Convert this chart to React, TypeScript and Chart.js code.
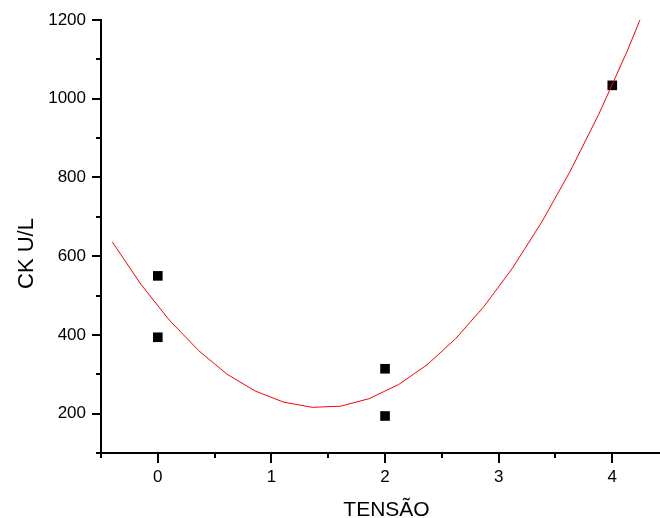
import React, { useEffect, useRef } from "react";
import { Chart, registerables } from "chart.js";

Chart.register(...registerables);

// Measured points
const tensao = [0, 0, 2, 2, 4];
const ckValues = [550, 394, 314, 194, 1034];

// Fit curve vertices
const curveX = [-0.4, -0.15, 0.1, 0.36, 0.61, 0.86, 1.11, 1.36, 1.61, 1.86, 2.12, 2.37, 2.62, 2.87, 3.12, 3.38, 3.63, 3.88, 4.13, 4.39];
const curveY = [636, 529, 438, 360, 300, 257, 229, 216, 219, 238, 274, 324, 390, 472, 569, 687, 816, 960, 1120, 1303];

// Axis ticks
const xTicks = [0, 1, 2, 3, 4];
const xMinorTicks = [-0.5, 0.5, 1.5, 2.5, 3.5];
const yTicks = [200, 400, 600, 800, 1000, 1200];
const yMinorTicks = [100, 300, 500, 700, 900, 1100];

const xTitle = "TENSÃO";
const yTitle = "CK U/L";

const FONT = '"Liberation Sans", Arial, Helvetica, sans-serif';

const axisPlugin = {
  id: "originAxes",
  afterDraw(chart: any) {
    const { ctx, chartArea } = chart;
    const xs = chart.scales.x;
    const ys = chart.scales.y;
    ctx.save();
    ctx.strokeStyle = "#000";
    ctx.lineWidth = 2;
    ctx.beginPath();
    const yTickSet: Array<[number, number]> = [
      ...yTicks.map((v) => [v, 9] as [number, number]),
      ...yMinorTicks.map((v) => [v, 5] as [number, number]),
    ];
    for (const [v, len] of yTickSet) {
      const py = Math.round(ys.getPixelForValue(v));
      ctx.moveTo(chartArea.left - len, py);
      ctx.lineTo(chartArea.left, py);
    }
    const xTickSet: Array<[number, number]> = [
      ...xTicks.map((v) => [v, 10] as [number, number]),
      ...xMinorTicks.map((v) => [v, 5] as [number, number]),
    ];
    for (const [v, len] of xTickSet) {
      const px = Math.round(xs.getPixelForValue(v));
      ctx.moveTo(px, chartArea.bottom);
      ctx.lineTo(px, chartArea.bottom + len);
    }
    ctx.stroke();

    // axis titles
    ctx.fillStyle = "#000";
    ctx.font = `21px ${FONT}`;
    ctx.textAlign = "center";
    ctx.textBaseline = "alphabetic";
    ctx.fillText(xTitle, (chartArea.left + chartArea.right) / 2 + 6, chart.height - 2);

    ctx.translate(33, (chartArea.top + chartArea.bottom) / 2 + 17);
    ctx.rotate(-Math.PI / 2);
    ctx.font = `22px ${FONT}`;
    ctx.fillText(yTitle, 0, 0);
    ctx.restore();
  },
};

export default function App() {
  const canvasRef = useRef<HTMLCanvasElement | null>(null);

  useEffect(() => {
    const canvas = canvasRef.current;
    if (!canvas) return;
    const chart = new Chart(canvas, {
      type: "scatter",
      data: {
        datasets: [
          {
            label: "fit",
            data: curveX.map((x, i) => ({ x, y: curveY[i] })),
            showLine: true,
            borderColor: "#ff0000",
            borderWidth: 1,
            pointRadius: 0,
            tension: 0,
            fill: false,
          },
          {
            label: "CK",
            data: tensao.map((x, i) => ({ x, y: ckValues[i] })),
            pointStyle: "rect",
            pointRadius: 6.8,
            backgroundColor: "#000",
            borderColor: "#000",
            borderWidth: 0,
          },
        ],
      },
      options: {
        responsive: false,
        animation: false,
        devicePixelRatio: 1,
        layout: { autoPadding: false, padding: { top: 20, right: 0, left: 0, bottom: 0 } },
        plugins: {
          legend: { display: false },
          tooltip: { enabled: false },
        },
        scales: {
          x: {
            type: "linear",
            min: -0.5,
            max: 4.42,
            grid: { display: false, drawTicks: false },
            border: { display: true, color: "#000", width: 2 },
            afterBuildTicks: (scale: any) => {
              scale.ticks = xTicks.map((v) => ({ value: v }));
            },
            afterFit: (scale: any) => {
              scale.height = 65;
              scale.paddingLeft = 0;
              scale.paddingRight = 0;
            },
            ticks: {
              color: "#000",
              font: { family: FONT, size: 17 },
              padding: 14,
              maxRotation: 0,
              autoSkip: false,
              callback: (v: any) => String(v),
            },
          },
          y: {
            type: "linear",
            min: 100,
            max: 1200,
            grid: { display: false, drawTicks: false },
            border: { display: true, color: "#000", width: 2 },
            afterBuildTicks: (scale: any) => {
              scale.ticks = yTicks.map((v) => ({ value: v }));
            },
            afterFit: (scale: any) => {
              scale.width = 101;
              scale.paddingTop = 0;
              scale.paddingBottom = 0;
            },
            ticks: {
              color: "#000",
              font: { family: FONT, size: 17 },
              padding: 15,
              autoSkip: false,
              callback: (v: any) => String(v),
            },
          },
        },
      },
      plugins: [axisPlugin],
    });
    return () => chart.destroy();
  }, []);

  return (
    <div style={{ position: "fixed", left: 0, top: 0, width: 660, height: 518, background: "#fff" }}>
      <canvas ref={canvasRef} width={660} height={518} style={{ display: "block" }} />
    </div>
  );
}
